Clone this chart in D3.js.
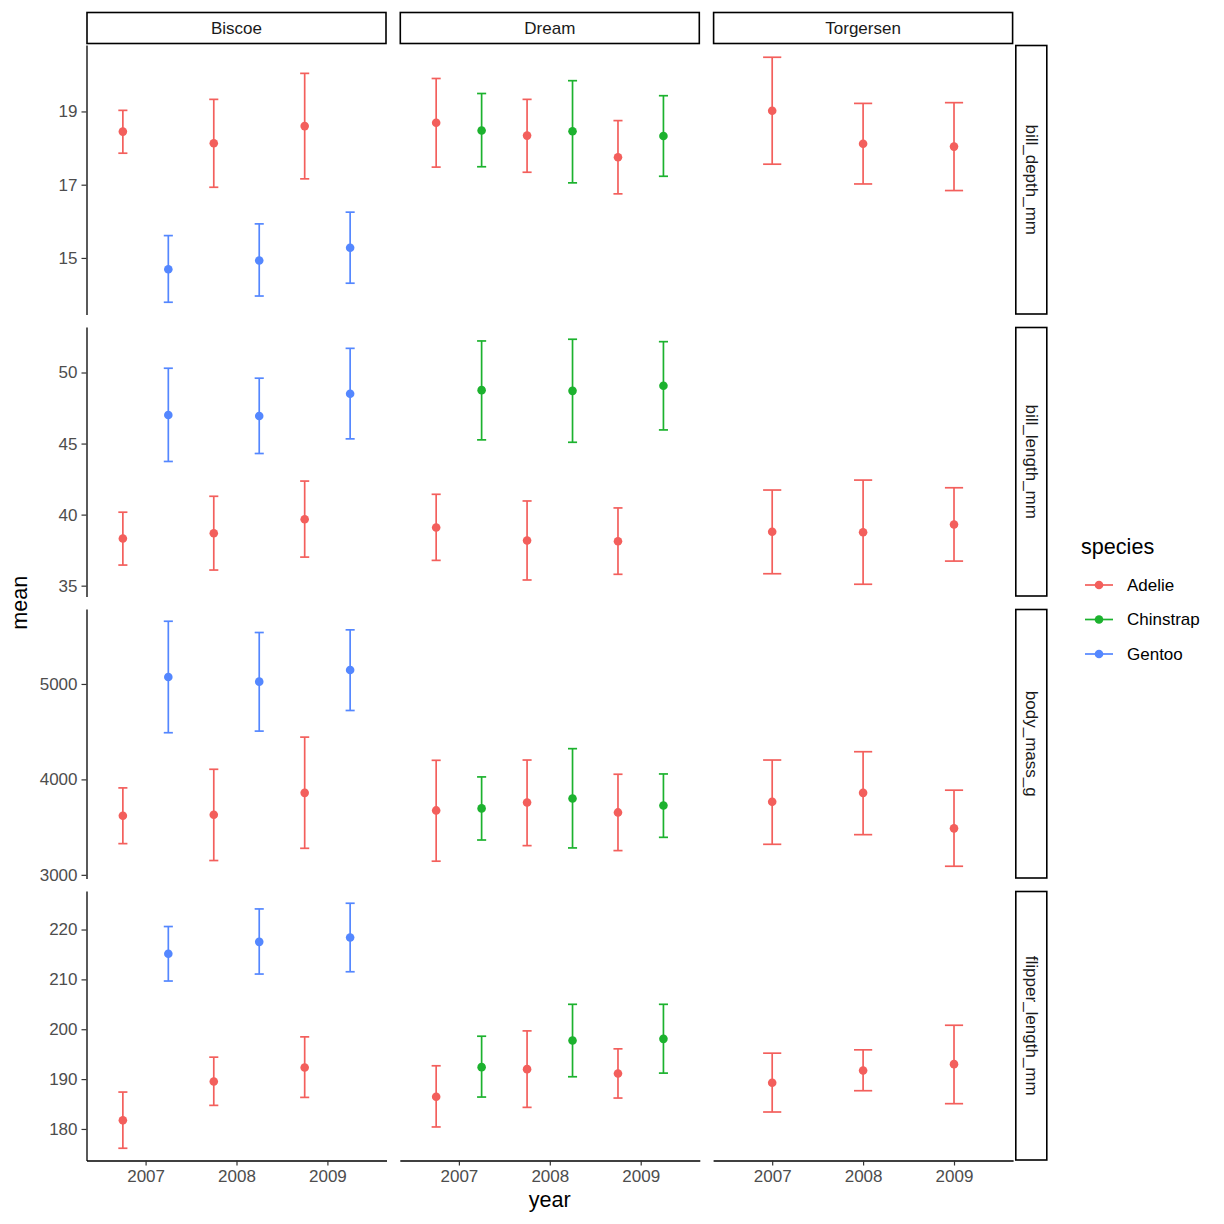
<!DOCTYPE html>
<html><head><meta charset="utf-8">
<script src="https://cdn.jsdelivr.net/npm/d3@7"></script>
<style>
body{margin:0;background:#fff}
text{font-family:"Liberation Sans",Arial,Helvetica,sans-serif}
</style>
</head><body>
<svg id="chart" width="1224" height="1224"></svg>
<script>
const islands = ["Biscoe", "Dream", "Torgersen"];
const measures = ["bill_depth_mm", "bill_length_mm", "body_mass_g", "flipper_length_mm"];
const speciesNames = ["Adelie", "Chinstrap", "Gentoo"];
const speciesColors = ["#F35F5C", "#1CB22E", "#5487FF"];
const years = [2007, 2008, 2009];
const yTicks = [[15, 17, 19], [35, 40, 45, 50], [3000, 4000, 5000], [180, 190, 200, 210, 220]];

// [island, species, means 2007-2009, lower 2007-2009, upper 2007-2009]
const billDepth = [
  ["Biscoe", "Adelie", [18.45, 18.13, 18.60], [17.86, 16.93, 17.16], [19.03, 19.33, 20.04]],
  ["Biscoe", "Gentoo", [14.69, 14.93, 15.28], [13.79, 13.96, 14.31], [15.61, 15.93, 16.25]],
  ["Dream", "Adelie", [18.69, 18.34, 17.75], [17.48, 17.34, 16.75], [19.90, 19.33, 18.75]],
  ["Dream", "Chinstrap", [18.48, 18.46, 18.33], [17.49, 17.05, 17.23], [19.49, 19.84, 19.43]],
  ["Torgersen", "Adelie", [19.02, 18.12, 18.04], [17.56, 17.02, 16.84], [20.48, 19.22, 19.24]]
];
const billLength = [
  ["Biscoe", "Adelie", [38.32, 38.69, 39.67], [36.45, 36.10, 37.01], [40.17, 41.29, 42.36]],
  ["Biscoe", "Gentoo", [47.01, 46.94, 48.50], [43.74, 44.30, 45.33], [50.30, 49.60, 51.70]],
  ["Dream", "Adelie", [39.09, 38.18, 38.13], [36.78, 35.40, 35.80], [41.43, 40.96, 40.47]],
  ["Dream", "Chinstrap", [48.76, 48.71, 49.07], [45.26, 45.09, 45.96], [52.22, 52.34, 52.17]],
  ["Torgersen", "Adelie", [38.79, 38.76, 39.30], [35.84, 35.10, 36.73], [41.73, 42.43, 41.89]]
];
const bodyMass = [
  ["Biscoe", "Adelie", [3619, 3630, 3859], [3327, 3150, 3278], [3911, 4106, 4443]],
  ["Biscoe", "Gentoo", [5073, 5024, 5146], [4489, 4506, 4722], [5657, 5539, 5567]],
  ["Dream", "Adelie", [3675, 3758, 3654], [3143, 3306, 3254], [4200, 4203, 4054]],
  ["Dream", "Chinstrap", [3696, 3800, 3727], [3365, 3282, 3393], [4026, 4322, 4057]],
  ["Torgersen", "Adelie", [3765, 3859, 3487], [3320, 3421, 3090], [4203, 4290, 3887]]
];
const flipperLength = [
  ["Biscoe", "Adelie", [181.73, 189.53, 192.33], [176.13, 184.73, 186.33], [187.40, 194.40, 198.47]],
  ["Biscoe", "Gentoo", [215.13, 217.53, 218.40], [209.67, 211.07, 211.53], [220.60, 224.13, 225.27]],
  ["Dream", "Adelie", [186.47, 192.00, 191.13], [180.40, 184.33, 186.20], [192.67, 199.67, 196.07]],
  ["Dream", "Chinstrap", [192.40, 197.73, 198.07], [186.40, 190.47, 191.20], [198.60, 205.00, 205.00]],
  ["Torgersen", "Adelie", [189.27, 191.73, 193.00], [183.40, 187.67, 185.07], [195.20, 195.87, 200.80]]
];
const measureData = [billDepth, billLength, bodyMass, flipperLength];

const svg = d3.select("#chart");
const panelX = [86.5, 399.8, 713.1];
const panelY = [45, 327, 609, 891];
const panelW = 300, panelH = 269.5;
const smallFont = 17, bigFont = 21.6;
const color = d3.scaleOrdinal().domain(speciesNames).range(speciesColors);

const x = d3.scaleLinear().domain([2006.35, 2009.65]).range([0, panelW]);

measures.forEach((m, r) => {
  const rows = measureData[r];
  const lo = d3.min(rows, d => d3.min(d[3]));
  const hi = d3.max(rows, d => d3.max(d[4]));
  const pad = (hi - lo) * 0.05;
  const y = d3.scaleLinear().domain([lo - pad, hi + pad]).range([panelH, 0]);

  islands.forEach((isl, c) => {
    const g = svg.append("g").attr("transform", `translate(${panelX[c]},${panelY[r]})`);
    const present = rows.filter(d => d[0] === isl)
      .sort((a, b) => speciesNames.indexOf(a[1]) - speciesNames.indexOf(b[1]));
    const n = present.length;
    present.forEach((d, i) => {
      const off = (i - (n - 1) / 2) * 0.5;
      const cap = 0.1 / n;
      const col = color(d[1]);
      years.forEach((yr, k) => {
        const xc = x(yr + off);
        g.append("line").attr("x1", xc).attr("x2", xc)
          .attr("y1", y(d[3][k])).attr("y2", y(d[4][k]))
          .attr("stroke", col).attr("stroke-width", 1.7);
        [d[3][k], d[4][k]].forEach(v => {
          g.append("line").attr("x1", x(yr + off - cap)).attr("x2", x(yr + off + cap))
            .attr("y1", y(v)).attr("y2", y(v))
            .attr("stroke", col).attr("stroke-width", 1.7);
        });
        g.append("circle").attr("cx", xc).attr("cy", y(d[2][k])).attr("r", 4.3).attr("fill", col);
      });
    });

    if (c === 0) {
      const ax = g.append("g").call(d3.axisLeft(y).tickValues(yTicks[r]).tickFormat(d3.format("d"))
        .tickSize(5).tickSizeOuter(0).tickPadding(4));
      ax.select(".domain").attr("stroke", "#000").attr("stroke-width", 1.3);
      ax.selectAll(".tick line").attr("stroke", "#333").attr("stroke-width", 1.2);
      ax.selectAll(".tick text").attr("fill", "#4D4D4D").style("font-size", smallFont + "px")
        .style("font-family", "'Liberation Sans', Arial, sans-serif");
    }
    if (r === measures.length - 1) {
      const ax = g.append("g").attr("transform", `translate(0,${panelH})`)
        .call(d3.axisBottom(x).tickValues(years).tickFormat(d3.format("d")).tickSize(5).tickSizeOuter(0).tickPadding(4));
      ax.select(".domain").attr("stroke", "#000").attr("stroke-width", 1.3);
      ax.selectAll(".tick line").attr("stroke", "#333").attr("stroke-width", 1.2);
      ax.selectAll(".tick text").attr("fill", "#4D4D4D").style("font-size", smallFont + "px")
        .style("font-family", "'Liberation Sans', Arial, sans-serif");
    }
  });

  // right strip
  const sy = panelY[r];
  svg.append("rect").attr("x", 1015.8).attr("y", sy + 0.5).attr("width", 31).attr("height", panelH - 1)
    .attr("fill", "#fff").attr("stroke", "#000").attr("stroke-width", 1.6);
  svg.append("text").attr("transform", `translate(1031.3,${sy + panelH / 2}) rotate(90)`)
    .attr("text-anchor", "middle").attr("dominant-baseline", "central")
    .attr("fill", "#1A1A1A").style("font-size", smallFont + "px").text(m);
});

// top strips
islands.forEach((isl, c) => {
  svg.append("rect").attr("x", panelX[c] + 0.5).attr("y", 12.5).attr("width", panelW - 1).attr("height", 31)
    .attr("fill", "#fff").attr("stroke", "#000").attr("stroke-width", 1.6);
  svg.append("text").attr("x", panelX[c] + panelW / 2).attr("y", 28.5)
    .attr("text-anchor", "middle").attr("dominant-baseline", "central")
    .attr("fill", "#1A1A1A").style("font-size", smallFont + "px").text(isl);
});

// axis titles
svg.append("text").attr("x", (panelX[0] + panelX[2] + panelW) / 2).attr("y", 1207)
  .attr("text-anchor", "middle").style("font-size", bigFont + "px").attr("fill", "#000").text("year");
svg.append("text").attr("transform", `translate(27,${(panelY[0] + panelY[3] + panelH) / 2}) rotate(-90)`)
  .attr("text-anchor", "middle").style("font-size", bigFont + "px").attr("fill", "#000").text("mean");

// legend
const leg = svg.append("g");
leg.append("text").attr("x", 1081).attr("y", 554).style("font-size", bigFont + "px").attr("fill", "#000").text("species");
speciesNames.forEach((s, i) => {
  const cy = 585 + i * 34.5;
  leg.append("line").attr("x1", 1085).attr("x2", 1113).attr("y1", cy).attr("y2", cy)
    .attr("stroke", color(s)).attr("stroke-width", 1.7);
  leg.append("circle").attr("cx", 1099).attr("cy", cy).attr("r", 4.3).attr("fill", color(s));
  leg.append("text").attr("x", 1127).attr("y", cy).attr("dominant-baseline", "central")
    .style("font-size", smallFont + "px").attr("fill", "#000").text(s);
});
</script>
</body></html>
